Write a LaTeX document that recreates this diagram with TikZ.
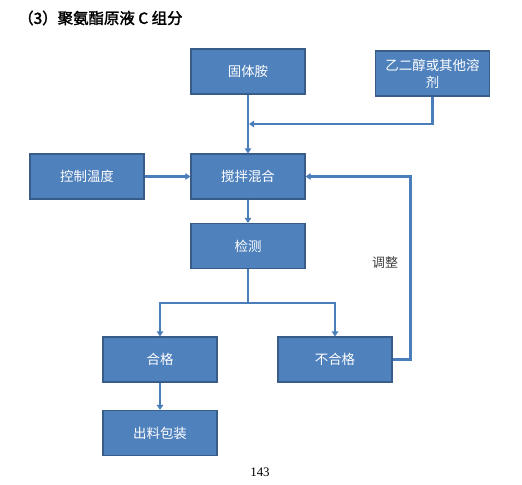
\documentclass[tikz,border=0pt]{standalone}
\usepackage{fontspec}
\setmainfont{Liberation Serif}
\newfontfamily\cjk{Noto Sans CJK SC}
\newfontfamily\cjkbold[FakeBold=2]{Noto Sans CJK SC}
\usetikzlibrary{arrows.meta,positioning}
\definecolor{boxfill}{HTML}{4F81BD}
\definecolor{boxedge}{HTML}{385D8A}
\definecolor{linecol}{HTML}{4A7EBB}
\definecolor{textgray}{HTML}{404040}

\begin{document}
\begin{tikzpicture}[x=1bp,y=-1bp,
  proc/.style={draw=boxedge,fill=boxfill,line width=1.2bp,minimum width=114bp,minimum height=45bp,
    text=white,font=\cjk\fontsize{13.5}{17}\selectfont,align=center,inner sep=2bp},
  link/.style={draw=linecol,line width=2.3bp},
  flow/.style={link,-{Triangle[length=5bp,width=6.5bp]}}]
\useasboundingbox (0,0) rectangle (522,485);
% title and page number
\node[anchor=west,inner sep=0,font=\cjkbold\fontsize{15.5}{18}\selectfont] (title) at (18,18) {（3）聚氨酯原液 C 组分};
\node[font=\fontsize{13}{15}\selectfont] (page) at (260,472) {143};
% boxes
\node[proc] (amine) at (248,71.5) {固体胺};
\node[proc] (solvent) at (432.5,73.5) {乙二醇或其他溶\\剂};
\node[proc] (temp) at (87,176.5) {控制温度};
\node[proc] (mix) at (248,176.5) {搅拌混合};
\node[proc] (test) at (248,246) {检测};
\node[proc] (pass) at (160,359.5) {合格};
\node[proc] (fail) at (335,359.5) {不合格};
\node[proc] (pack) at (160,433) {出料包装};
% connectors
\coordinate (join) at (249,124);
\coordinate (split) at (248,303);
\draw[flow] (amine) -- (mix);
\draw[flow] (solvent.south) |- (join);
\draw[flow] (temp) -- (mix);
\draw[flow] (mix) -- (test);
\draw[link] (test) -- (split);
\draw[flow] (split) -| (pass);
\draw[flow] (split) -| (fail);
\draw[flow] (pass) -- (pack);
\draw[flow] (fail.east) -- ++(18,0) |- (mix.east);
\node[text=textgray,font=\cjk\fontsize{13}{15}\selectfont] (adjust) at (385,263) {调整};
\end{tikzpicture}
\end{document}
